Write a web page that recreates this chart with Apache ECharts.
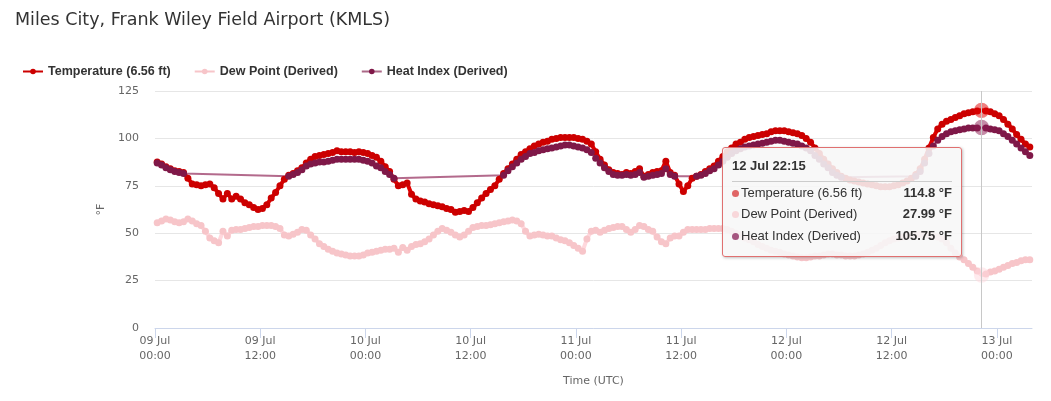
<!DOCTYPE html>
<html>
<head>
<meta charset="utf-8">
<title>KMLS</title>
<script src="https://cdn.jsdelivr.net/npm/echarts@6/dist/echarts.min.js"></script>
<style>
  html, body { margin: 0; padding: 0; background: #fff; }
  #chart { width: 1051px; height: 401px; }
</style>
</head>
<body>
<div id="chart"></div>
<script>
// half-hourly readings, first one at 09 Jul 00:15 UTC
var startHour = 0.25;
var stepHours = 0.5;

var temperature = [
    87.5, 86.5, 85, 84, 83, 82.5, 82, 79, 76, 75.5, 75, 75.5, 76, 74, 71, 68, 71, 68, 69.5, 68, 66, 65, 63.5, 62.5,
    63, 65, 68.5, 71.5, 75, 78.5, 80.5, 81.5, 83, 84.5, 87, 89, 90.5, 91, 91.5, 92, 92.5, 93.5, 93, 93, 93, 92.5, 93, 92.5,
    92, 91, 90, 88, 85, 82.5, 78.5, 75, 75.5, 76.5, 70.5, 68, 67, 66.5, 65.5, 65, 64.5, 64, 63, 62.5, 61, 61.5, 62, 61.5,
    63.5, 66, 68.5, 71, 73, 75, 78.5, 81.5, 84, 86.5, 89, 91.5, 93, 94.5, 96, 97, 98, 98.5, 99.5, 100, 100.5, 100.5, 100.5, 100.5,
    100, 99.5, 98.5, 97, 93, 89, 86, 83.5, 82, 81.5, 81, 82, 81.5, 82.5, 84, 80, 81, 82, 82.5, 83, 88, 82, 80.5, 76,
    72, 75, 79, 80, 81, 82.5, 84, 85.5, 88, 90.5, 93, 95, 97, 98, 99.5, 100.5, 101, 101.5, 102, 102.5, 103.5, 104, 104, 104,
    103.5, 103, 102.5, 101.5, 100, 98, 95, 92, 89, 86.5, 84, 82, 80, 79, 78, 77.5, 77, 76.5, 76, 75.5, 75, 74.5, 74.5, 74.5,
    75, 75.5, 76.5, 77.5, 79, 81, 84, 89, 95, 100.5, 105, 107.5, 109, 110, 111, 112, 113, 113.5, 114, 114.5, 114.8, 114.5, 114, 113,
    112, 110, 107.5, 105, 102, 99.5, 97, 95.5
];

var dewPoint = [
    55.5, 56.5, 57.5, 57, 56, 55.5, 56, 57.5, 56.5, 55, 54, 51, 47.5, 46, 45, 51, 48.5, 51.5, 52, 52, 52.5, 53, 53.5, 53.5,
    54, 54, 54, 53.5, 52.5, 49, 48.5, 49.5, 50.5, 52, 51.5, 49, 47, 44.5, 43, 41.5, 40.5, 39.5, 39, 38.5, 38, 38, 38, 38.5,
    39.5, 40, 40.5, 41, 41.5, 41.5, 42, 40, 42.5, 41, 43, 44, 44.5, 45.5, 47, 49, 51, 52.5, 51.5, 50.5, 49, 48, 49, 51,
    53, 53.5, 54, 54, 54.5, 55, 55.5, 56, 56.5, 57, 56.5, 55, 51, 48.5, 49, 49.5, 49, 48.5, 48.5, 47.5, 46.5, 46, 45, 43.5,
    42, 40.5, 47, 51, 51.5, 50.5, 51.5, 52.5, 53, 53.5, 53.5, 52, 50.5, 52, 54, 53.5, 52, 51, 48, 45.5, 44.5, 47.5, 48.5, 48.5,
    50.5, 52, 52, 52, 52, 52, 52.5, 52.5, 52.5, 52.5, 52, 51, 50, 49, 47.5, 46.5, 45.5, 44, 43, 42, 41, 40.5, 40, 39,
    38.5, 38, 37.5, 37, 37, 37.5, 38, 38, 38.5, 39, 39, 38.5, 38.5, 38, 38, 38, 38.5, 39, 40, 41, 42, 43.5, 45, 46,
    47, 47.5, 48, 48.5, 49, 49, 49.5, 49.5, 49, 48.5, 48, 47, 45, 42, 39.5, 37.5, 36, 34, 32, 30, 27.99, 28.5, 29.5, 30,
    31, 32, 33, 34, 34.5, 35.5, 36, 36
];

// heat index only exists above ~80 F, gaps are bridged by the line
var heatIndex = [
    87, 86, 84.5, 83.5, 82.5, 82, 81.5, null, null, null, null, null, null, null, null, null, null, null, null, null, null, null, null, null,
    null, null, null, null, null, null, 80, 81, 82, 83.5, 85.5, 86.5, 87, 87.5, 87.5, 88, 88.5, 89, 89, 89, 89, 89, 89, 88.5,
    88, 87, 85.5, 84.5, 82.5, 81, 79, null, null, null, null, null, null, null, null, null, null, null, null, null, null, null, null, null,
    null, null, null, null, null, null, null, 80.5, 83, 85, 87, 89, 90.5, 92, 92.5, 93.5, 94, 94.5, 95, 95.5, 96, 96.5, 96.5, 96,
    95.5, 95, 94, 92.5, 89.5, 87, 84.5, 82.5, 81, 80.5, 80.5, 81, 80.5, 81, 82, 79.5, 80, 80.5, 81, 81.5, 84, 81, 80, null,
    null, null, null, 80, 80.5, 81.5, 83, 84, 86, 88, 90, 92, 93.5, 94.5, 95.5, 96, 96.5, 97, 97.5, 98, 98.5, 99, 99, 98.5,
    98, 97.5, 97, 96, 95, 93.5, 91, 89, 86.5, 84.5, 82, 80.5, 79.5, null, null, null, null, null, null, null, null, null, null, null,
    null, null, null, null, null, 80, 82.5, 87, 92, 96, 99, 101, 102.5, 103.5, 104, 104.5, 105, 105.5, 105.5, 105.5, 105.75, 105.5, 105, 104.5,
    104, 102.5, 101, 99, 97, 95, 93, 91
];

var tickHours = [0, 12, 24, 36, 48, 60, 72, 84, 96];
var tickLabels = ['09 Jul\n00:00', '09 Jul\n12:00', '10 Jul\n00:00', '10 Jul\n12:00', '11 Jul\n00:00',
    '11 Jul\n12:00', '12 Jul\n00:00', '12 Jul\n12:00', '13 Jul\n00:00'];
var hoverIndex = 188; // 12 Jul 22:15

var times = [];
for (var i = 0; i < temperature.length; i++) {
    times.push(startHour + i * stepHours);
}
function pairs(values) {
    var out = [];
    for (var i = 0; i < values.length; i++) {
        out.push([times[i], values[i]]);
    }
    return out;
}
function pad(n) {
    return (n < 10 ? '0' : '') + n;
}
function timeText(h) {
    var day = 9 + Math.floor(h / 24);
    var hr = Math.floor(h % 24);
    var mn = Math.round((h - Math.floor(h)) * 60);
    return pad(day) + ' Jul ' + pad(hr) + ':' + pad(mn);
}

var dotColors = ['#e06666', '#f8d7da', '#a5557f'];
var labelFont = 'DejaVu Sans';

var option = {
    animation: false,
    backgroundColor: '#fff',
    title: {
        text: 'Miles City, Frank Wiley Field Airport (KMLS)',
        left: 10,
        top: 6,
        textStyle: {
            fontFamily: labelFont,
            fontSize: 17.5,
            fontWeight: 'normal',
            color: '#333'
        }
    },
    legend: {
        left: 17,
        top: 60,
        itemGap: 23,
        itemWidth: 20,
        itemHeight: 7,
        lineStyle: { width: 2 },
        textStyle: {
            fontFamily: 'Liberation Sans',
            fontSize: 12.5,
            fontWeight: 'bold',
            color: '#333'
        },
        data: ['Temperature (6.56 ft)', 'Dew Point (Derived)', 'Heat Index (Derived)']
    },
    grid: {
        left: 155,
        right: 19,
        top: 91,
        bottom: 73
    },
    tooltip: {
        trigger: 'axis',
        triggerOn: 'none',
        alwaysShowContent: true,
        transitionDuration: 0,
        position: [722, 147],
        backgroundColor: 'rgba(247,247,247,0.88)',
        borderColor: '#e07070',
        borderWidth: 1,
        padding: [6, 9, 9, 9],
        extraCssText: 'width:220px;border-radius:3px;box-shadow:1px 1px 3px rgba(0,0,0,0.25);',
        textStyle: {
            fontFamily: 'Liberation Sans',
            fontSize: 13,
            color: '#333'
        },
        axisPointer: {
            type: 'line',
            lineStyle: { color: '#c8c8c8', width: 1, type: 'solid' },
            label: { show: false }
        },
        formatter: function (params) {
            var html = '<div style="font-weight:bold;line-height:18px;padding:3px 0 6px 0;' +
                'border-bottom:1px solid #ccc;margin-bottom:0">' + timeText(params[0].value[0]) + '</div>';
            html += '<table style="border-collapse:collapse;width:100%;font-size:13px;color:#333">';
            for (var i = 0; i < params.length; i++) {
                var p = params[i];
                html += '<tr style="height:21.5px"><td style="padding:0;white-space:nowrap">' +
                    '<span style="display:inline-block;width:7px;height:7px;border-radius:50%;margin-right:2px;' +
                    'vertical-align:middle;background:' + dotColors[p.seriesIndex] + '"></span>' + p.seriesName +
                    '</td><td style="padding:0;text-align:right;font-weight:bold;white-space:nowrap">' +
                    p.value[1] + ' °F</td></tr>';
            }
            return html + '</table>';
        }
    },
    xAxis: {
        type: 'value',
        min: 0,
        max: 100,
        name: 'Time (UTC)',
        nameLocation: 'middle',
        nameGap: 48,
        nameTextStyle: { fontFamily: labelFont, fontSize: 11, color: '#666' },
        axisLine: { lineStyle: { color: '#ccd6eb' } },
        axisTick: {
            length: 10,
            customValues: tickHours,
            lineStyle: { color: '#ccd6eb' }
        },
        axisLabel: {
            customValues: tickHours,
            margin: 6,
            lineHeight: 15,
            fontFamily: labelFont,
            fontSize: 11,
            color: '#666',
            formatter: function (v) {
                var k = tickHours.indexOf(v);
                return k >= 0 ? tickLabels[k] : '';
            }
        },
        splitLine: { show: false }
    },
    yAxis: {
        type: 'value',
        min: 0,
        max: 125,
        interval: 25,
        name: '°F',
        nameLocation: 'middle',
        nameGap: 48,
        nameRotate: 90,
        nameTextStyle: { fontFamily: labelFont, fontSize: 11, color: '#666' },
        axisLine: { show: false },
        axisTick: { show: false },
        axisLabel: { margin: 16, fontFamily: labelFont, fontSize: 11, color: '#666' },
        splitLine: { lineStyle: { color: '#e6e6e6' } }
    },
    series: [
        {
            name: 'Temperature (6.56 ft)',
            type: 'line',
            data: pairs(temperature),
            symbol: 'circle',
            symbolSize: 7,
            color: '#cc0000',
            lineStyle: { width: 4 },
            emphasis: { scale: 2.2, itemStyle: { opacity: 0.5 } }
        },
        {
            name: 'Dew Point (Derived)',
            type: 'line',
            data: pairs(dewPoint),
            symbol: 'circle',
            symbolSize: 7,
            color: '#f7c5c9',
            lineStyle: { width: 4 },
            emphasis: { scale: 2.2, itemStyle: { opacity: 0.5 } }
        },
        {
            name: 'Heat Index (Derived)',
            type: 'line',
            data: pairs(heatIndex),
            symbol: 'circle',
            symbolSize: 7,
            color: '#7f1848',
            connectNulls: true,
            lineStyle: { width: 2, opacity: 0.65 },
            emphasis: { scale: 2.2, itemStyle: { opacity: 0.5 } }
        }
    ]
};

var chart = echarts.init(document.getElementById('chart'));
chart.setOption(option);
chart.dispatchAction({ type: 'showTip', seriesIndex: 0, dataIndex: hoverIndex });
</script>
</body>
</html>
